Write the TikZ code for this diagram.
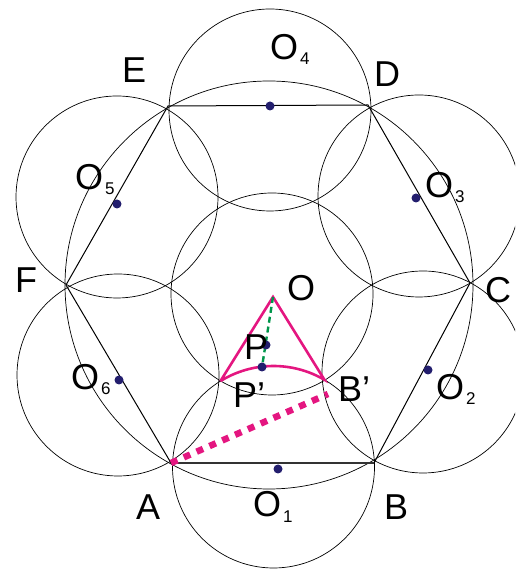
\documentclass[tikz,border=0pt]{standalone}
\usepackage{fontspec}
\setmainfont{Liberation Sans}
\usetikzlibrary{calc}
\definecolor{pinkc}{RGB}{228,22,128}
\definecolor{dotblue}{RGB}{35,30,110}
\definecolor{greenc}{RGB}{0,150,75}
\newcommand\osub[1]{\kern2pt\raisebox{-5pt}{\fontsize{17}{17}\selectfont #1}}
\begin{document}
\begin{tikzpicture}[x=1pt,y=1pt,
  circ/.style={line width=0.7pt},
  side/.style={line width=1pt},
  dotc/.style={fill=dotblue},
  lab/.style={anchor=base west,inner sep=0pt,font=\fontsize{36}{36}\selectfont},
  pinkline/.style={draw=pinkc,line width=2.6pt,line join=miter}]
\useasboundingbox (0,0) rectangle (515,569);
\clip (0,0) rectangle (515,569);
% vertices
\coordinate (A) at (171,106);
\coordinate (B) at (374,106);
\coordinate (C) at (470,286);
\coordinate (D) at (368,464);
\coordinate (E) at (168,463);
\coordinate (F) at (66,284);
% circle centres
\coordinate (H) at (269,284);
\coordinate (c0) at (272,275);
\coordinate (c1) at (273.5,102);
\coordinate (c2) at (423,197);
\coordinate (c3) at (419,373);
\coordinate (c4) at (270,459);
\coordinate (c5) at (117,372);
\coordinate (c6) at (118,194);
% circles
\draw[circ] (H) circle[radius=204];
\draw[circ] (c0) circle[radius=101];
\foreach \c in {c1,c2,c3,c4,c5,c6} \draw[circ] (\c) circle[radius=101];
% hexagon
\draw[side] (A) -- (B) -- (C) -- (D) -- (E) -- (F) -- cycle;
\draw[line width=1.6pt,black!80] (A) -- (B);
% special points
\coordinate (O) at (273,272);
\coordinate (Pp) at ($(c1)+(121.7:101)$);
\coordinate (Bp) at ($(c1)+(59.7:101)$);
\coordinate (Q) at (328,175);
\coordinate (P) at (266,224);
\coordinate (R) at (262,202);
% pink dotted
\draw[draw=pinkc,line width=6.5pt,dash pattern=on 7pt off 7pt] (A) -- (Q);
% pink triangle with arc
\draw[pinkline] (Pp) -- (O) -- (Bp) arc[start angle=59.7,end angle=121.7,radius=101];
% green dashed
\draw[draw=greenc,line width=2.4pt,dash pattern=on 6pt off 4pt] (O) -- (R);
% dots
\foreach \p in {(278,100),(428,199),(416,371),(270,463),(117,365),(119,189)}
  \fill[dotc] \p circle[radius=4.5];
\fill[dotc] (P) circle[radius=4.5];
\fill[dotc] (R) circle[radius=4.5];
% labels
\node[lab] (lO) at (287,268) {O};
\node[lab] (lP) at (244,209) {P};
\node[lab] (lPp) at (233,161) {P'};
\node[lab] (lBp) at (338,167) {B'};
\node[lab] (lA) at (136,49) {A};
\node[lab] (lB) at (384,49) {B};
\node[lab] (lC) at (485,266) {C};
\node[lab] (lD) at (374,482) {D};
\node[lab] (lE) at (122,486) {E};
\node[lab] (lF) at (15,276) {F};
\node[lab] (lO1) at (253,52) {O\osub{1}};
\node[lab] (lO2) at (436,169) {O\osub{2}};
\node[lab] (lO3) at (425,371) {O\osub{3}};
\node[lab] (lO4) at (270,509) {O\osub{4}};
\node[lab] (lO5) at (75,379) {O\osub{5}};
\node[lab] (lO6) at (71,179) {O\osub{6}};
\end{tikzpicture}
\end{document}
